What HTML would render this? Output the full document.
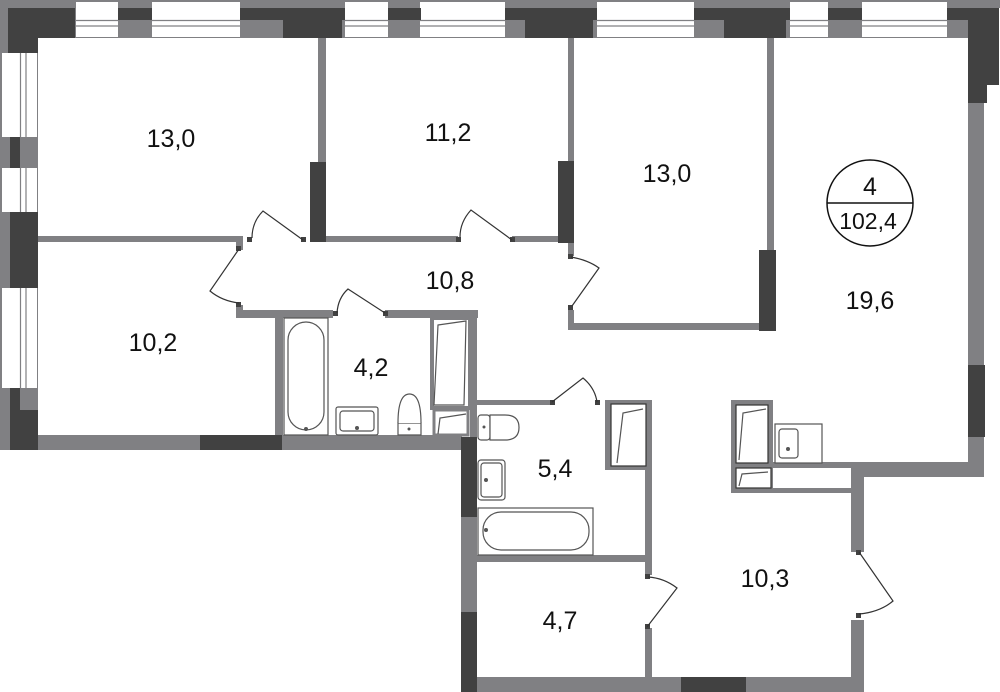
<!DOCTYPE html>
<html><head><meta charset="utf-8"><style>
html,body{margin:0;padding:0;background:#fff;}
svg{display:block;}
text{font-family:"Liberation Sans",Arial,sans-serif;font-size:25px;fill:#111;text-anchor:middle;}
</style></head><body>
<svg width="1000" height="692" viewBox="0 0 1000 692" xmlns="http://www.w3.org/2000/svg">
<g fill="#808083">
<!-- top band -->
<rect x="0" y="0" width="1000" height="8"/>
<rect x="0" y="8" width="968" height="30"/>
<!-- left band -->
<rect x="0" y="38" width="38" height="412"/>
</g>
<!-- top windows -->
<g fill="#fff">
<rect x="76" y="2" width="42" height="35"/>
<rect x="152" y="2" width="88" height="35"/>
<rect x="345" y="2" width="43" height="35"/>
<rect x="420" y="2" width="85" height="35"/>
<rect x="597" y="2" width="97" height="35"/>
<rect x="790" y="2" width="38" height="35"/>
<rect x="862" y="2" width="85" height="35"/>
<!-- left windows -->
<rect x="2" y="53" width="35" height="84"/>
<rect x="2" y="168" width="35" height="44"/>
<rect x="2" y="288" width="35" height="100"/>
</g>
<g stroke="#808083" stroke-width="1.2">
<path d="M76 20.5H118M76 26H118M152 20.5H240M152 26H240M345 20.5H388M345 26H388M420 20.5H505M420 26H505M597 20.5H694M597 26H694M790 20.5H828M790 26H828M862 20.5H947M862 26H947"/>
<path d="M20.5 53V137M26 53V137M20.5 168V212M26 168V212M20.5 288V388M26 288V388"/>
</g>
<g fill="#414141">
<rect x="8" y="8" width="67" height="30"/><rect x="8" y="8" width="30" height="45"/>
<rect x="118" y="8" width="34" height="12"/>
<rect x="240" y="8" width="105" height="12"/><rect x="283" y="20" width="59" height="18"/>
<rect x="388" y="8" width="33" height="12"/>
<rect x="505" y="8" width="92" height="12"/><rect x="525" y="20" width="68" height="18"/>
<rect x="694" y="8" width="96" height="12"/><rect x="724" y="20" width="62" height="18"/>
<rect x="828" y="8" width="34" height="12"/>
<rect x="947" y="8" width="52" height="12"/><rect x="968" y="20" width="31" height="65"/><rect x="968" y="85" width="19" height="18"/>
<rect x="10" y="137" width="10" height="31"/>
<rect x="10" y="212" width="28" height="76"/>
<rect x="10" y="388" width="10" height="22"/><rect x="10" y="410" width="28" height="40"/>
</g>
<g fill="#808083">
<!-- right wall -->
<rect x="968" y="103" width="16" height="374"/>
<rect x="851" y="462" width="133" height="15"/>
<rect x="851" y="462" width="13" height="90"/>
<rect x="851" y="620" width="13" height="72"/>
<!-- interior -->
<rect x="38" y="236" width="205" height="6"/>
<rect x="318" y="38" width="8" height="124"/>
<rect x="326" y="236" width="132" height="6"/>
<rect x="512" y="236" width="46" height="6"/>
<rect x="568" y="38" width="6" height="123"/>
<rect x="568" y="243" width="6" height="13"/>
<rect x="568" y="310" width="6" height="20"/>
<rect x="568" y="323" width="195" height="7"/>
<rect x="767" y="38" width="7" height="212"/>
<rect x="236" y="242" width="7" height="8"/>
<rect x="236" y="305" width="7" height="13"/>
<rect x="236" y="310" width="97" height="8"/>
<rect x="385" y="310" width="93" height="8"/>
<rect x="275" y="318" width="8" height="132"/>
<rect x="470" y="310" width="7" height="127"/>
<rect x="38" y="435" width="424" height="15"/>
<rect x="461" y="517" width="16" height="95"/>
<rect x="477" y="400" width="75" height="5"/>
<rect x="605" y="400" width="47" height="70"/>
<rect x="645" y="400" width="7" height="175"/>
<rect x="477" y="555" width="175" height="7"/>
<rect x="645" y="628" width="7" height="50"/>
<rect x="461" y="677" width="403" height="15"/>
<rect x="731" y="400" width="42" height="93"/>
<rect x="773" y="462" width="78" height="6"/>
<rect x="731" y="488" width="120" height="5"/>
</g>
<g fill="#414141">
<rect x="310" y="162" width="16" height="80"/>
<rect x="558" y="161" width="16" height="82"/>
<rect x="759" y="250" width="17" height="81"/>
<rect x="200" y="435" width="82" height="15"/>
<rect x="968" y="365" width="17" height="72"/>
<rect x="461" y="437" width="16" height="80"/>
<rect x="461" y="612" width="16" height="80"/>
<rect x="681" y="677" width="65" height="15"/>
<!-- jambs -->
<rect x="247" y="237" width="5" height="5"/><rect x="301" y="237" width="5" height="5"/>
<rect x="456" y="237" width="5" height="5"/><rect x="510" y="237" width="5" height="5"/>
<rect x="568" y="254" width="5" height="5"/><rect x="568" y="305" width="5" height="5"/>
<rect x="236" y="246" width="5" height="5"/><rect x="236" y="302" width="5" height="5"/>
<rect x="333" y="311" width="5" height="5"/><rect x="383" y="311" width="5" height="5"/>
<rect x="550" y="400" width="5" height="5"/><rect x="595" y="400" width="5" height="5"/>
<rect x="645" y="574" width="5" height="5"/><rect x="645" y="624" width="5" height="5"/>
<rect x="856" y="550" width="5" height="5"/><rect x="856" y="613" width="5" height="5"/>
</g>
<!-- doors -->
<g fill="none" stroke="#333" stroke-width="1.2">
<path d="M303 240L263 211Q252 222 252 238"/>
<path d="M512 240L471 210Q460 222 460 237"/>
<path d="M571 257Q588 260 599 268L572 306"/>
<path d="M239 249L210 291Q222 301 239 303"/>
<path d="M385 313L348 289Q338 298 337 313"/>
<path d="M552 402L583 378Q595 388 597 402"/>
<path d="M647 627L677 588Q664 578 648 577"/>
<path d="M859 552L893 601Q880 612 859 614"/>
</g>
<!-- fixtures -->
<g fill="#fff" stroke="#555" stroke-width="1.2">
<rect x="284" y="318" width="44" height="117"/>
<rect x="288" y="322" width="36" height="108" rx="18"/>
<rect x="336" y="407" width="42" height="28" rx="2"/>
<rect x="340" y="411" width="34" height="20" rx="3"/>
<path d="M398 423V435H421V423Z"/>
<path d="M398 423Q398 394 409.5 394Q421 394 421 423"/>
<rect x="432" y="318" width="38" height="90" stroke="#808083" stroke-width="4"/>
<path d="M438 325L466 321L464 405H434Z" fill="none"/>
<rect x="434" y="410" width="34" height="25" stroke="#808083" stroke-width="3"/>
<path d="M438 434L440 418L466 414" fill="none"/>
<rect x="478" y="415" width="12" height="25" rx="3"/>
<path d="M490 415H505Q519 415 519 427.5Q519 440 505 440H490Z"/>
<rect x="478" y="460" width="27" height="40" rx="3"/>
<rect x="481" y="463" width="21" height="34" rx="3"/>
<rect x="478" y="508" width="115" height="47"/>
<rect x="483" y="512" width="106" height="38" rx="18"/>
<rect x="611" y="404" width="35" height="62" stroke="#333"/>
<path d="M617 463L623 413L643 409" fill="none"/>
<rect x="736" y="405" width="32" height="58" stroke="#333"/>
<path d="M739 460L743 413L766 409" fill="none"/>
<rect x="736" y="468" width="35" height="20" stroke="#333"/>
<path d="M739 486L742 474L768 472" fill="none"/>
<rect x="775" y="424" width="47" height="39"/>
<rect x="779" y="429" width="19" height="29" rx="3"/>
</g>
<g fill="#555">
<circle cx="306" cy="429" r="2"/><circle cx="357" cy="428" r="2"/><circle cx="409" cy="429" r="1.5"/>
<circle cx="484" cy="427" r="1.5"/><circle cx="486" cy="480" r="2"/><circle cx="486" cy="530" r="2"/><circle cx="788" cy="449" r="2"/>
</g>
<!-- labels -->
<text x="171" y="147">13,0</text>
<text x="448" y="141">11,2</text>
<text x="450" y="289">10,8</text>
<text x="153" y="351">10,2</text>
<text x="371" y="376">4,2</text>
<text x="667" y="182">13,0</text>
<text x="870" y="309">19,6</text>
<text x="555" y="477">5,4</text>
<text x="560" y="629">4,7</text>
<text x="765" y="587">10,3</text>
<circle cx="870" cy="203" r="43" fill="none" stroke="#111" stroke-width="1.5"/>
<line x1="827" y1="203" x2="913" y2="203" stroke="#111" stroke-width="1.5"/>
<text x="870" y="195">4</text>
<text x="868" y="229" style="font-size:23px">102,4</text>
</svg>
</body></html>
